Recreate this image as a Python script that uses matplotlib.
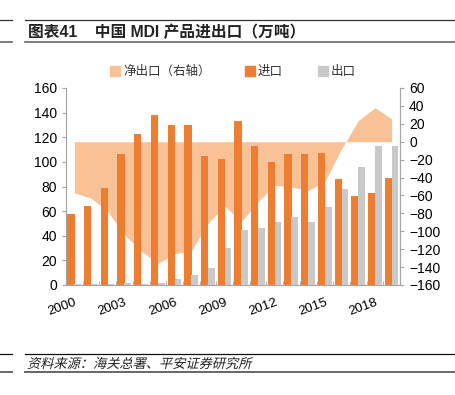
# -----------------------------
#   IMPORTS
# -----------------------------
import matplotlib
matplotlib.use("Agg")
import matplotlib.pyplot as plt
from matplotlib.lines import Line2D
from matplotlib.patches import Patch, PathPatch
from matplotlib.textpath import TextPath
from matplotlib.font_manager import FontProperties
from matplotlib.transforms import Affine2D, IdentityTransform
import numpy as np

plt.rcParams['font.family'] = ['Liberation Sans', 'Noto Sans CJK SC', 'DejaVu Sans']

# -----------------------------
#   DATA
# -----------------------------
years = list(range(2000, 2020))
imports = [58, 64, 79, 106, 123, 138, 130, 130, 105, 102,
           133, 113, 100, 106, 106, 107.5, 86, 72, 74.5, 87]
exports = [1, 1, 1, 2, 1, 2, 5, 8, 14, 30,
           44.5, 46, 51.5, 55.5, 51.5, 63, 78, 95.5, 112.5, 112.5]
net_exports = [-57, -63, -78, -104, -122, -136, -125, -122, -91, -72,
               -89, -67, -48.5, -50.5, -54.5, -44.5, -8, 23.5, 38, 25.5]
tick_years = [2000, 2003, 2006, 2009, 2012, 2015, 2018]

title = "图表41    中国 MDI 产品进出口（万吨）"
source = "资料来源：海关总署、平安证券研究所"

c_imp = "#ED7D31"
c_exp = "#C9C9C9"
c_net = "#F8C196"
c_axis = "#A6A6A6"

# -----------------------------
#   FIGURE
# -----------------------------
fig = plt.figure(figsize=(4.56, 3.95), dpi=100)
W, H = 456, 395
ax = fig.add_axes([66 / W, 1 - 285 / H, (400 - 66) / W, (285 - 88) / H])
ax2 = ax.twinx()

x = np.arange(len(years))

# Net export area on the right axis, drawn behind the bars
ax2.fill_between(x, 0, net_exports, color=c_net, lw=0, zorder=1)
ax2.set_ylim(-160, 60)
ax2.set_yticks(range(-160, 61, 20))
ax.set_zorder(ax2.get_zorder() + 1)
ax.patch.set_visible(False)

ax.bar(x - 0.2, imports, width=0.44, color=c_imp, zorder=3)
ax.bar(x + 0.2, exports, width=0.40, color=c_exp, zorder=3)
ax.set_ylim(0, 160)
ax.set_yticks(range(0, 161, 20))
ax.set_xlim(-0.5, len(years) - 0.5)

ax.set_xticks([years.index(y) for y in tick_years])
ax.set_xticklabels([str(y) for y in tick_years], rotation=20, ha="right",
                   rotation_mode="anchor", fontsize=9.5)
ax.set_xticks(np.arange(-0.5, len(years), 1), minor=True)
ax.tick_params(axis="x", which="major", length=0, pad=8)
ax.tick_params(axis="x", which="minor", length=3, color=c_axis, direction="in")

for a in (ax, ax2):
    a.tick_params(axis="y", labelsize=10, length=3, color=c_axis, width=0.8)
    for s in a.spines.values():
        s.set_color(c_axis)
        s.set_linewidth(0.8)
    a.spines["top"].set_visible(False)

# Legend
handles = [Patch(color=c_net), Patch(color=c_imp), Patch(color=c_exp)]
labels = ["净出口（右轴）", "进口", "出口"]
fig.legend(handles, labels, loc="center", bbox_to_anchor=(233 / W, 1 - 72 / H),
           ncol=3, frameon=False, fontsize=9, handlelength=0.8, handleheight=0.8,
           handletextpad=0.2, columnspacing=2.8, labelcolor="#333333")

# Header and footer rules
for x0, x1 in ((25 / W, 1), (0, 12 / W)):
    fig.add_artist(Line2D([x0, x1], [1 - 20 / H] * 2, color="#333333", lw=0.9))
    fig.add_artist(Line2D([x0, x1], [1 - 42 / H] * 2, color="#666666", lw=1.2))
    fig.add_artist(Line2D([x0, x1], [1 - 354 / H] * 2, color="#111111", lw=0.9))
    fig.add_artist(Line2D([x0, x1], [1 - 372 / H] * 2, color="#666666", lw=1.4))

fig.text(28 / W, 1 - 32 / H, title, fontsize=11.3, fontweight="bold",
         va="center", ha="left", color="#222222")

# Source line in slanted (faux italic) CJK text
src_path = TextPath((0, 0), source, size=13.2,
                    prop=FontProperties(family="Noto Sans CJK SC"))
src_tr = Affine2D().skew_deg(14, 0).translate(27, H - 368)
fig.add_artist(PathPatch(src_path, transform=src_tr + IdentityTransform(),
                         color="#222222", lw=0))

fig.savefig("out.png", dpi=100)
